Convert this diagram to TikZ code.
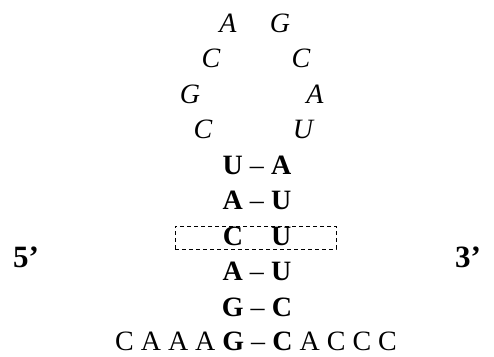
\documentclass[tikz,border=0pt]{standalone}
\usepackage{fontspec}
\setmainfont{Liberation Serif}
\begin{document}
\begin{tikzpicture}[x=1pt,y=-1pt,
  base/.style={inner sep=0pt, anchor=base, text depth=0pt, font=\fontsize{28}{28}\selectfont},
  loopnt/.style={base, font=\fontsize{28}{28}\selectfont\itshape},
  stem/.style={base},
  endlbl/.style={base, font=\fontsize{31}{31}\selectfont\bfseries},
  boxst/.style={draw, dash pattern=on 4pt off 3pt, line width=0.9pt, inner sep=0pt, minimum width=161pt, minimum height=23pt}]
\useasboundingbox (0,0) rectangle (494,356);
% loop (italic)
\node[loopnt] (l1) at (228,32) {A};
\node[loopnt] (r1) at (280,32) {G};
\node[loopnt] (l2) at (211,67.5) {C};
\node[loopnt] (r2) at (301,67.5) {C};
\node[loopnt] (l3) at (190,103) {G};
\node[loopnt] (r3) at (315,103) {A};
\node[loopnt] (l4) at (203,138.5) {C};
\node[loopnt] (r4) at (303,138.5) {U};
% stem
\node[stem] (s1) at (257,174) {\textbf{U} – \textbf{A}};
\node[stem] (s2) at (257,209.5) {\textbf{A} – \textbf{U}};
\node[stem] (s3) at (257,245) {\textbf{C}\phantom{ – }\textbf{U}};
\node[stem] (s4) at (257,280.5) {\textbf{A} – \textbf{U}};
\node[stem] (s5) at (257,316) {\textbf{G} – \textbf{C}};
\node[stem] (s6) at (256,350) {C A A A \textbf{G} – \textbf{C} A C C C};
% box
\node[boxst] (box) at (255.5,237.5) {};
% ends
\node[endlbl] (five) at (26,267) {5’};
\node[endlbl] (three) at (468,267) {3’};
\end{tikzpicture}
\end{document}
